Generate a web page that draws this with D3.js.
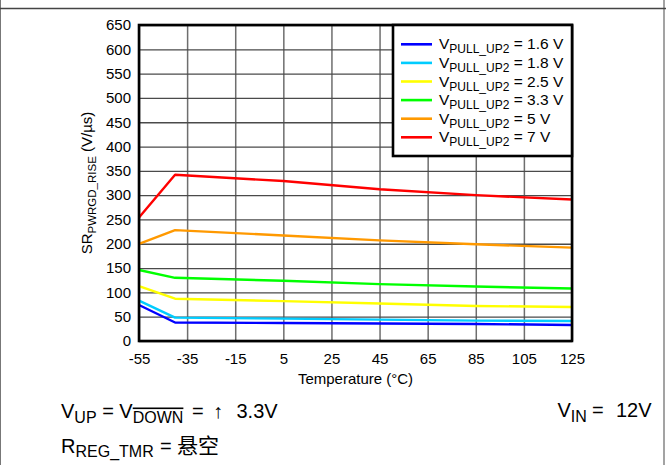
<!DOCTYPE html>
<html>
<head>
<meta charset="utf-8">
<script src="https://cdn.jsdelivr.net/npm/d3@7/dist/d3.min.js"></script>
<style>
  html, body { margin: 0; padding: 0; background: #fff; }
  svg { display: block; font-family: "Liberation Sans", Arial, sans-serif; }
</style>
</head>
<body>
<svg id="chart" width="666" height="465"></svg>
<script>
// Slew rate of PWRGD rising edge vs. temperature, one curve per pull-up voltage
const temps = [-55, -40, 5, 45, 85, 125];
const pullUpLabels = ["1.6 V", "1.8 V", "2.5 V", "3.3 V", "5 V", "7 V"];
const sr16 = [74, 38, 37, 36, 35, 33];
const sr18 = [83, 48, 46, 44, 42, 41];
const sr25 = [113, 87, 82, 77, 72, 70];
const sr33 = [146, 130, 124, 117, 112, 108];
const sr50 = [200, 228, 217, 207, 199, 192];
const sr70 = [254, 342, 329, 312, 300, 291];
const seriesColors = ["#0000ff", "#00ccff", "#ffff00", "#00ff00", "#ff9900", "#ff0000"];
const xTicks = [-55, -35, -15, 5, 25, 45, 65, 85, 105, 125];
const yTicks = [0, 50, 100, 150, 200, 250, 300, 350, 400, 450, 500, 550, 600, 650];

const series = [sr16, sr18, sr25, sr33, sr50, sr70].map((vals, i) => ({
  label: pullUpLabels[i],
  color: seriesColors[i],
  points: temps.map((t, j) => ({ t, v: vals[j] }))
}));

const svg = d3.select("#chart");
const plotLeft = 139, plotRight = 572, plotTop = 25, plotBottom = 341;

const x = d3.scaleLinear().domain([-55, 125]).range([plotLeft, plotRight]);
const y = d3.scaleLinear().domain([0, 650]).range([plotBottom, plotTop]);
const plainNumber = d => String(d);

// outer cell border
svg.append("line").attr("x1", 0.5).attr("x2", 0.5).attr("y1", 0).attr("y2", 465)
  .attr("stroke", "#777").attr("stroke-width", 1);
svg.append("line").attr("x1", 664).attr("x2", 664).attr("y1", 0).attr("y2", 465)
  .attr("stroke", "#666").attr("stroke-width", 1.2);
svg.append("line").attr("x1", 0).attr("x2", 666).attr("y1", 8.5).attr("y2", 8.5)
  .attr("stroke", "#444").attr("stroke-width", 1.5);

// gridlines
svg.append("g")
  .attr("transform", `translate(0,${plotBottom})`)
  .call(d3.axisBottom(x).tickValues(xTicks).tickSize(-(plotBottom - plotTop)).tickFormat(""))
  .call(g => g.select(".domain").remove())
  .call(g => g.selectAll("line").attr("stroke", "#6e6e6e").attr("stroke-width", 1.5));
svg.append("g")
  .attr("transform", `translate(${plotLeft},0)`)
  .call(d3.axisLeft(y).tickValues(yTicks).tickSize(-(plotRight - plotLeft)).tickFormat(""))
  .call(g => g.select(".domain").remove())
  .call(g => g.selectAll("line").attr("stroke", "#4a4a4a").attr("stroke-width", 1.3));

// tick labels
svg.append("g")
  .attr("transform", `translate(0,${plotBottom})`)
  .call(d3.axisBottom(x).tickValues(xTicks).tickSize(0).tickPadding(12).tickFormat(plainNumber))
  .call(g => g.select(".domain").remove())
  .call(g => g.selectAll("text").attr("font-size", 15).attr("fill", "#000")
    .attr("font-family", "'Liberation Sans', Arial, sans-serif"));
svg.append("g")
  .attr("transform", `translate(${plotLeft},0)`)
  .call(d3.axisLeft(y).tickValues(yTicks).tickSize(0).tickPadding(8).tickFormat(plainNumber))
  .call(g => g.select(".domain").remove())
  .call(g => g.selectAll("text").attr("font-size", 15).attr("fill", "#000")
    .attr("font-family", "'Liberation Sans', Arial, sans-serif"));

// curves
const line = d3.line().x(d => x(d.t)).y(d => y(d.v));
svg.append("g").selectAll("path")
  .data(series)
  .join("path")
  .attr("d", d => line(d.points))
  .attr("fill", "none")
  .attr("stroke", d => d.color)
  .attr("stroke-width", 2.4)
  .attr("stroke-linejoin", "round");

// plot frame
svg.append("rect")
  .attr("x", plotLeft).attr("y", plotTop)
  .attr("width", plotRight - plotLeft).attr("height", plotBottom - plotTop)
  .attr("fill", "none").attr("stroke", "#000").attr("stroke-width", 2.6);

// legend
const lgX = 393, lgY = 25, lgW = plotRight - lgX, lgH = 131;
const legend = svg.append("g");
legend.append("rect")
  .attr("x", lgX).attr("y", lgY).attr("width", lgW).attr("height", lgH)
  .attr("fill", "#fff").attr("stroke", "#000").attr("stroke-width", 2.6);
const rows = legend.selectAll("g.row")
  .data(series)
  .join("g")
  .attr("class", "row")
  .attr("transform", (d, i) => `translate(0,${44.3 + i * 18.6})`);
rows.append("line")
  .attr("x1", 401).attr("x2", 432).attr("y1", 0).attr("y2", 0)
  .attr("stroke", d => d.color).attr("stroke-width", 2.6);
const lt = rows.append("text").attr("x", 439).attr("y", 5).attr("font-size", 15.5).attr("fill", "#000");
lt.append("tspan").text("V");
lt.append("tspan").attr("font-size", 12).attr("dy", 4).text("PULL_UP2");
lt.append("tspan").attr("dy", -4).text(d => ` = ${d.label}`);

// axis titles
const yt = svg.append("text")
  .attr("transform", `translate(92,${(plotTop + plotBottom) / 2}) rotate(-90)`)
  .attr("text-anchor", "middle").attr("font-size", 15).attr("fill", "#000");
yt.append("tspan").text("SR");
yt.append("tspan").attr("font-size", 11.5).attr("dy", 3.5).text("PWRGD_RISE");
yt.append("tspan").attr("dy", -3.5).text(" (V/µs)");

svg.append("text")
  .attr("x", (plotLeft + plotRight) / 2).attr("y", 384)
  .attr("text-anchor", "middle").attr("font-size", 15).attr("fill", "#000")
  .text("Temperature (°C)");

// test conditions
const mainSize = 20, subSize = 16;
const c1 = svg.append("text").attr("x", 61).attr("y", 418).attr("font-size", mainSize).attr("fill", "#000");
c1.append("tspan").text("V");
c1.append("tspan").attr("font-size", subSize).attr("dy", 4.5).text("UP");
c1.append("tspan").attr("dy", -4.5).text(" = V");
c1.append("tspan").attr("font-size", subSize).attr("dy", 4.5)
  .style("text-decoration", "overline").text("DOWN");
c1.append("tspan").attr("dy", -4.5).attr("x", 192).text("=");
c1.append("tspan").attr("x", 213).text("↑");
c1.append("tspan").attr("x", 236.5).text("3.3V");

const c2 = svg.append("text").attr("x", 61).attr("y", 453).attr("font-size", mainSize).attr("fill", "#000");
c2.append("tspan").text("R");
c2.append("tspan").attr("font-size", subSize).attr("dy", 4).text("REG_TMR");
c2.append("tspan").attr("dy", -4).attr("x", 160).text("=");
c2.append("tspan").attr("x", 177)
  .attr("font-family", "'Noto Sans CJK SC', sans-serif").attr("font-size", 21).text("悬空");

const c3 = svg.append("text").attr("x", 557.5).attr("y", 417)
  .attr("font-size", mainSize).attr("fill", "#000");
c3.append("tspan").text("V");
c3.append("tspan").attr("font-size", subSize).attr("dy", 4.5).text("IN");
c3.append("tspan").attr("dy", -4.5).attr("x", 592).text("=");
c3.append("tspan").attr("x", 616).text("12V");
</script>
</body>
</html>
